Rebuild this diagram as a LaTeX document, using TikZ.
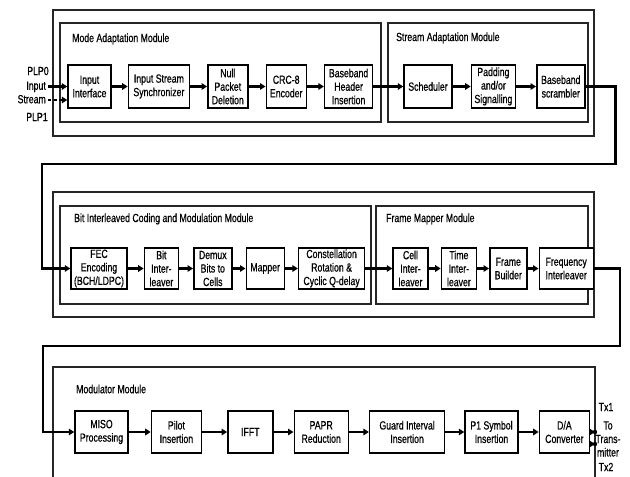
\documentclass[tikz,border=0pt]{standalone}
\usepackage{fontspec}
\setmainfont{Liberation Sans}[FakeStretch=0.74, FakeBold=0.6]
\usetikzlibrary{arrows.meta,positioning}

\begin{document}
\begin{tikzpicture}[
    x=1pt, y=-1pt,
    font=\fontsize{11.8}{13.5}\selectfont,
    node distance=16pt,
    blk/.style={rectangle, draw=black, line width=1.4pt, fill=white,
      minimum height=43pt, inner sep=1pt, align=center},
    frame/.style={draw=black!85, line width=1.2pt},
    modtitle/.style={anchor=west, inner sep=0pt},
    arr/.style={-{Triangle[length=5.5pt,width=6.5pt]}, line width=2.6pt},
    dsh/.style={dash pattern=on 3pt off 2.5pt}
  ]
    \useasboundingbox[fill=white] (0,0) rectangle (630,477);
    \clip (0,0) rectangle (630,477);

    % input stage
    \draw[frame] (53,10) rectangle (594,136);
    \draw[frame] (60,23) rectangle (381,122);
    \draw[frame] (388,23) rectangle (588,122);
    \node[modtitle] (mamt) at (72,39) {Mode Adaptation Module};
    \node[modtitle] (samt) at (396,38) {Stream Adaptation Module};

    \node[blk, minimum width=43pt] (inif) at (89.5,86.5) {Input\\Interface};
    \node[blk, minimum width=61pt, right=16pt of inif] (iss) {Input Stream\\Synchronizer};
    \node[blk, minimum width=40pt, right=17pt of iss] (npd) {Null\\Packet\\Deletion};
    \node[blk, minimum width=40pt, right=17pt of npd] (crc) {CRC-8\\Encoder};
    \node[blk, minimum width=48pt, right=17pt of crc] (bbh) {Baseband\\Header\\Insertion};
    \node[blk, minimum width=48pt, right=30pt of bbh] (sched) {Scheduler};
    \node[blk, minimum width=44pt, right=18pt of sched] (pad) {Padding\\and/or\\Signalling};
    \node[blk, minimum width=48pt, right=20pt of pad] (bbs) {Baseband\\scrambler};

    \node (plp0) at (38,71) {PLP0};
    \node[align=right, anchor=east, inner sep=0pt] (instr) at (46,92.5) {Input\\Stream};
    \node (plp1) at (37,117) {PLP1};
    \coordinate (s0) at (48,86.5);
    \coordinate (s1) at (48,100);

    \draw[arr] (s0) -- (inif);
    \draw[arr, dsh] (s1) -- (s1 -| inif.west);
    \draw[arr] (inif) -- (iss);
    \draw[arr] (iss) -- (npd);
    \draw[arr] (npd) -- (crc);
    \draw[arr] (crc) -- (bbh);
    \draw[arr] (bbh) -- (sched);
    \draw[arr] (sched) -- (pad);
    \draw[arr] (pad) -- (bbs);

    % coding and framing
    \draw[frame] (53,192) rectangle (594,317);
    \draw[frame] (60,206) rectangle (371,304);
    \draw[frame] (376,206) rectangle (588,304);
    \node[modtitle] (bicmt) at (74,219) {Bit Interleaved Coding and Modulation Module};
    \node[modtitle] (fmmt) at (386,219) {Frame Mapper Module};

    \node[blk, minimum width=56pt, minimum height=41pt] (fec) at (99,268.5) {FEC\\Encoding\\(BCH/LDPC)};
    \node[blk, minimum width=34pt, minimum height=41pt, right=16pt of fec] (bil) {Bit\\Inter-\\leaver};
    \node[blk, minimum width=38pt, minimum height=41pt, right=14pt of bil] (demux) {Demux\\Bits to\\Cells};
    \node[blk, minimum width=38pt, minimum height=41pt, right=13pt of demux] (mapper) {Mapper};
    \node[blk, minimum width=66pt, minimum height=41pt, right=13pt of mapper] (rot) {Constellation\\Rotation \&\\Cyclic Q-delay};
    \node[blk, minimum width=35pt, minimum height=41pt, right=27pt of rot] (cil) {Cell\\Inter-\\leaver};
    \node[blk, minimum width=35pt, minimum height=41pt, right=12pt of cil] (til) {Time\\Inter-\\leaver};
    \node[blk, minimum width=37pt, minimum height=41pt, right=12pt of til] (fb) {Frame\\Builder};
    \node[blk, minimum width=54pt, minimum height=41pt, right=11pt of fb] (fil) {Frequency\\Interleaver};

    \coordinate (back1) at (42,164);
    \draw[arr] (bbs.east) -- ++(30,0) |- (back1) |- (fec.west);
    \draw[arr] (fec) -- (bil);
    \draw[arr] (bil) -- (demux);
    \draw[arr] (demux) -- (mapper);
    \draw[arr] (mapper) -- (rot);
    \draw[arr] (rot) -- (cil);
    \draw[arr] (cil) -- (til);
    \draw[arr] (til) -- (fb);
    \draw[arr] (fb) -- (fil);

    % modulator
    \draw[frame] (53,490) -- (53,367) -- (595,367) -- (595,490);
    \node[modtitle] (modt) at (76,389) {Modulator Module};

    \node[blk, minimum width=53pt, minimum height=42pt] (miso) at (101.5,432) {MISO\\Processing};
    \node[blk, minimum width=50pt, minimum height=42pt, right=22pt of miso] (pil) {Pilot\\Insertion};
    \node[blk, minimum width=45pt, minimum height=42pt, right=25pt of pil] (ifft) {IFFT};
    \node[blk, minimum width=54pt, minimum height=42pt, right=20pt of ifft] (papr) {PAPR\\Reduction};
    \node[blk, minimum width=75pt, minimum height=42pt, right=20pt of papr] (gi) {Guard Interval\\Insertion};
    \node[blk, minimum width=53pt, minimum height=42pt, right=19pt of gi] (p1) {P1 Symbol\\Insertion};
    \node[blk, minimum width=50pt, minimum height=42pt, right=20pt of p1] (da) {D/A\\Converter};

    \coordinate (back2) at (43,346);
    \draw[arr] (fil.east) -- ++(26,0) |- (back2) |- (miso.west);
    \draw[arr] (miso) -- (pil);
    \draw[arr] (pil) -- (ifft);
    \draw[arr] (ifft) -- (papr);
    \draw[arr] (papr) -- (gi);
    \draw[arr] (gi) -- (p1);
    \draw[arr] (p1) -- (da);

    \coordinate (tx1) at (595,432);
    \coordinate (tx2) at (595,444);
    \draw[arr] (da.east) -- (tx1);
    \draw[arr, dsh] ([yshift=-12pt]da.east) -- (tx2);
    \fill (tx1) circle (2.2pt);
    \fill (tx2) circle (2.2pt);
    \node (tx1l) at (606,407) {Tx1};
    \node[align=center, inner sep=0pt] (totx) at (608,439) {To\\Trans-\\mitter};
    \node (tx2l) at (606,467) {Tx2};
  \end{tikzpicture}
\end{document}
